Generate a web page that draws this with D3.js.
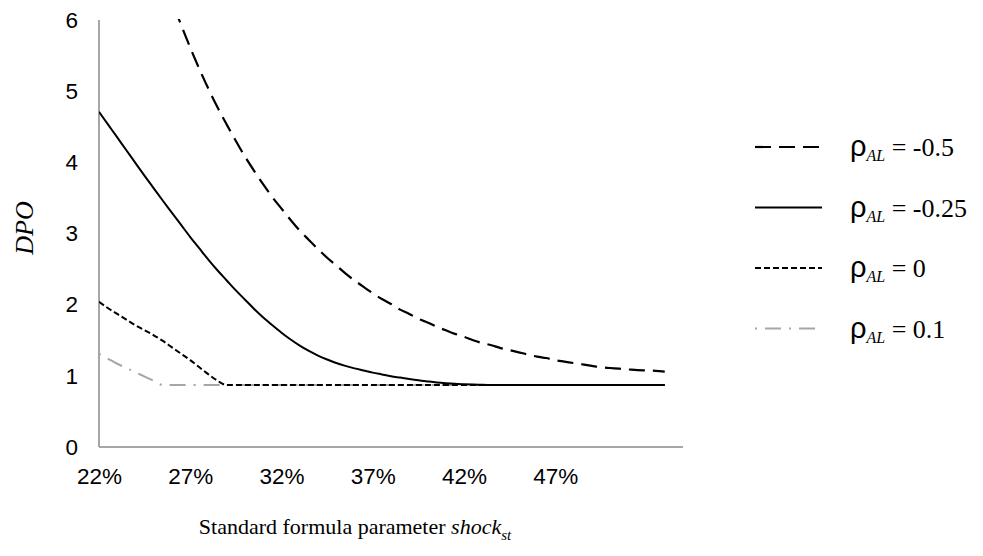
<!DOCTYPE html>
<html><head><meta charset="utf-8">
<script src="https://cdn.jsdelivr.net/npm/d3@7"></script>
<style>body{margin:0;background:#fff}svg{display:block}</style>
</head><body><svg id="c" width="983" height="556"></svg>
<script>
const shock = [22,22.5,23,23.5,24,24.5,25,25.5,26,26.5,27,27.5,28,28.5,29,29.5,30,30.5,31,31.5,32,32.5,33,33.5,34,34.5,35,35.5,36,36.5,37,37.5,38,38.5,39,39.5,40,40.5,41,41.5,42,42.5,43,43.5,44,44.5,45,45.5,46,46.5,47,47.5,48,48.5,49,49.5,50,50.5,51,51.5,52,52.5,53];
const rhoM050 = [10.08,9.50,8.95,8.43,7.94,7.48,7.05,6.65,6.27,5.93,5.61,5.31,5.03,4.77,4.53,4.30,4.08,3.88,3.69,3.51,3.35,3.19,3.04,2.91,2.78,2.66,2.55,2.44,2.34,2.25,2.16,2.08,2.01,1.93,1.87,1.80,1.75,1.69,1.64,1.59,1.55,1.50,1.46,1.43,1.39,1.36,1.33,1.30,1.27,1.25,1.22,1.20,1.18,1.16,1.14,1.12,1.11,1.10,1.09,1.08,1.075,1.07,1.06];
const rhoM025 = [4.71,4.53,4.35,4.17,3.99,3.81,3.635,3.46,3.29,3.12,2.95,2.79,2.63,2.48,2.34,2.20,2.07,1.94,1.82,1.71,1.605,1.51,1.425,1.35,1.285,1.23,1.18,1.14,1.105,1.075,1.045,1.02,0.995,0.975,0.955,0.937,0.922,0.908,0.897,0.888,0.882,0.877,0.874,0.872,0.871,0.87,0.87,0.87,0.87,0.87,0.87,0.87,0.87,0.87,0.87,0.87,0.87,0.87,0.87,0.87,0.87,0.87,0.87];
const rho000 = [2.04,1.95,1.87,1.79,1.71,1.64,1.57,1.49,1.40,1.31,1.22,1.12,1.02,0.93,0.87,0.87,0.87,0.87,0.87,0.87,0.87,0.87,0.87,0.87,0.87,0.87,0.87,0.87,0.87,0.87,0.87,0.87,0.87,0.87,0.87,0.87,0.87,0.87,0.87,0.87,0.87,0.87,0.87,0.87,0.87,0.87,0.87,0.87,0.87,0.87,0.87,0.87,0.87,0.87,0.87,0.87,0.87,0.87,0.87,0.87,0.87,0.87,0.87];
const rho010 = [1.31,1.24,1.17,1.11,1.05,0.99,0.93,0.87,0.87,0.87,0.87,0.87,0.87,0.87,0.87,0.87,0.87,0.87,0.87,0.87,0.87,0.87,0.87,0.87,0.87,0.87,0.87,0.87,0.87,0.87,0.87,0.87,0.87,0.87,0.87,0.87,0.87,0.87,0.87,0.87,0.87,0.87,0.87,0.87,0.87,0.87,0.87,0.87,0.87,0.87,0.87,0.87,0.87,0.87,0.87,0.87,0.87,0.87,0.87,0.87,0.87,0.87,0.87];
const xTickLabels = [22,27,32,37,42,47];
const yTicks = [0,1,2,3,4,5,6];
const seriesLabels = ["-0.5","-0.25","0","0.1"];

const svg = d3.select("#c");
const x = d3.scaleLinear().domain([22,54]).range([99,683]);
const y = d3.scaleLinear().domain([0,6]).range([447,20]);

svg.append("defs").append("clipPath").attr("id","plot")
  .append("rect").attr("x",99).attr("y",19).attr("width",590).attr("height",430);

const yAxis = svg.append("g").attr("transform","translate(99,0)")
  .call(d3.axisLeft(y).tickValues(yTicks).tickSize(0).tickPadding(21).tickFormat(d3.format("d")));
const xAxis = svg.append("g").attr("transform","translate(0,447)")
  .call(d3.axisBottom(x).tickValues(xTickLabels).tickSize(0).tickPadding(21).tickFormat(d=>d+"%"));
[yAxis,xAxis].forEach(g=>{
  g.select(".domain").attr("stroke","#a6a6a6").attr("stroke-width",2);
  g.selectAll("text").attr("font-family","Liberation Sans, Arial, sans-serif").attr("font-size",22.5).attr("fill","#000");
});
yAxis.select(".domain").attr("d","M0,"+y(6)+"V"+y(0));
xAxis.select(".domain").attr("d","M"+x(22)+",0H"+x(54));

const styles = [
  {data:rho010, color:"#a6a6a6", dash:"2,8,16,8", w:2},
  {data:rho000, color:"#000", dash:"6,3", w:2},
  {data:rhoM025, color:"#000", dash:null, w:2},
  {data:rhoM050, color:"#000", dash:"16,8", w:2.2}
];
const line = d3.line().x((d,i)=>x(shock[i])).y(d=>y(d)).curve(d3.curveMonotoneX);
const plot = svg.append("g").attr("clip-path","url(#plot)");
styles.forEach(s=>{
  plot.append("path").datum(s.data).attr("d",line).attr("fill","none")
    .attr("stroke",s.color).attr("stroke-width",s.w)
    .attr("stroke-dasharray",s.dash);
});

const legStyles = [styles[3],styles[2],styles[1],styles[0]];
seriesLabels.forEach((lab,i)=>{
  const ly = 147 + i*60.5;
  const s = legStyles[i];
  svg.append("line").attr("x1",755).attr("x2",822).attr("y1",ly).attr("y2",ly)
    .attr("stroke",s.color).attr("stroke-width",2.2).attr("stroke-dasharray",s.dash);
  const t = svg.append("text").attr("x",850).attr("y",ly+9).attr("fill","#000");
  t.append("tspan").attr("font-family","Liberation Sans, Arial, sans-serif").attr("font-size",29).text("ρ");
  t.append("tspan").attr("font-family","Liberation Serif, Times New Roman, serif").attr("font-style","italic").attr("font-size",16).attr("dy",5).text("AL");
  t.append("tspan").attr("font-family","Liberation Serif, Times New Roman, serif").attr("font-size",26).attr("dy",-5).text(" = "+lab);
});

svg.append("text").attr("transform","translate(33,228) rotate(-90)").attr("text-anchor","middle")
  .attr("font-family","Liberation Serif, Times New Roman, serif").attr("font-style","italic").attr("font-size",26).text("DPO");

const xt = svg.append("text").attr("x",355).attr("y",534).attr("text-anchor","middle")
  .attr("font-family","Liberation Serif, Times New Roman, serif").attr("font-size",22);
xt.append("tspan").text("Standard formula parameter ");
xt.append("tspan").attr("font-style","italic").text("shock");
xt.append("tspan").attr("font-style","italic").attr("font-size",15).attr("dy",6).text("st");
</script></body></html>
